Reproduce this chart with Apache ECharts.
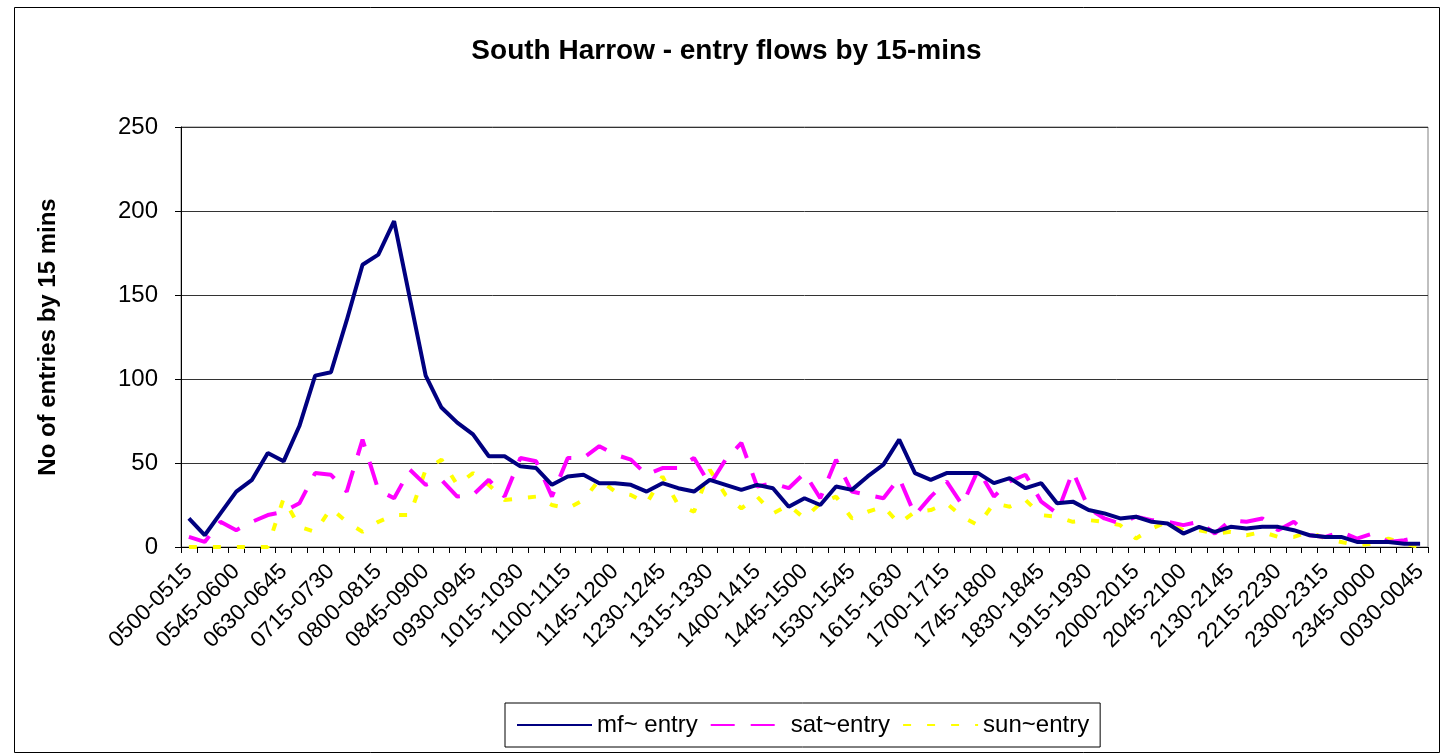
<!DOCTYPE html>
<html>
<head>
<meta charset="utf-8">
<script src="https://cdn.jsdelivr.net/npm/echarts@6/dist/echarts.min.js"></script>
<style>
html,body{margin:0;padding:0;background:#fff;}
#chart{width:1453px;height:754px;}
</style>
</head>
<body>
<div id="chart"></div>
<script>
var categories = [
'0500-0515','0515-0530','0530-0545','0545-0600',
'0600-0615','0615-0630','0630-0645','0645-0700',
'0700-0715','0715-0730','0730-0745','0745-0800',
'0800-0815','0815-0830','0830-0845','0845-0900',
'0900-0915','0915-0930','0930-0945','0945-1000',
'1000-1015','1015-1030','1030-1045','1045-1100',
'1100-1115','1115-1130','1130-1145','1145-1200',
'1200-1215','1215-1230','1230-1245','1245-1300',
'1300-1315','1315-1330','1330-1345','1345-1400',
'1400-1415','1415-1430','1430-1445','1445-1500',
'1500-1515','1515-1530','1530-1545','1545-1600',
'1600-1615','1615-1630','1630-1645','1645-1700',
'1700-1715','1715-1730','1730-1745','1745-1800',
'1800-1815','1815-1830','1830-1845','1845-1900',
'1900-1915','1915-1930','1930-1945','1945-2000',
'2000-2015','2015-2030','2030-2045','2045-2100',
'2100-2115','2115-2130','2130-2145','2145-2200',
'2200-2215','2215-2230','2230-2245','2245-2300',
'2300-2315','2315-2330','2330-2345','2345-0000',
'0000-0015','0015-0030','0030-0045'
];

var mfEntry = [
17,7,20,33,40,56,51,72,102,104,
135,168,174,194,148,102,83,74,67,54,
54,48,47,37,42,43,38,38,37,33,
38,35,33,40,37,34,37,35,24,29,
25,36,34,42,49,64,44,40,44,44,
44,38,41,35,38,26,27,22,20,17,
18,15,14,8,12,9,12,11,12,12,
10,7,6,6,3,3,3,2,2
];

var satEntry = [
6,3,15,10,15,19,21,26,44,43,
33,64,34,29,46,37,40,30,31,40,
30,53,51,30,53,53,60,55,52,43,
47,47,53,37,52,62,36,38,35,44,
29,52,33,31,29,41,19,30,39,25,
46,30,39,43,27,20,45,23,17,14,
18,16,15,13,15,8,16,15,17,10,
15,7,6,9,5,8,3,4,6
];

var sunEntry = [
0,0,0,0,0,0,29,12,9,23,
15,9,15,19,19,46,52,37,44,37,
28,29,30,25,23,28,40,33,31,26,
42,25,21,46,31,23,30,20,25,17,
26,30,17,21,24,14,21,22,26,18,
13,26,24,28,19,18,15,16,15,13,
5,11,15,10,10,8,9,7,9,6,
6,9,5,3,1,2,5,2,0
];

var yTicks = { min: 0, max: 250, interval: 50 };

var FONT = 'Liberation Sans, Arial, sans-serif';
var chart = echarts.init(document.getElementById('chart'), null, { renderer: 'canvas' });

chart.setOption({
  backgroundColor: '#ffffff',
  animation: false,
  title: {
    text: 'South Harrow - entry flows by 15-mins',
    left: 'center',
    top: 32,
    textStyle: { fontFamily: FONT, fontWeight: 'bold', fontSize: 28, color: '#000' }
  },
  graphic: [{
    type: 'rect',
    shape: { x: 14.5, y: 7.5, width: 1425, height: 745 },
    style: { fill: 'none', stroke: '#000', lineWidth: 1 },
    z: -1
  }],
  legend: {
    left: 505,
    top: 703,
    orient: 'horizontal',
    borderColor: '#000',
    borderWidth: 1,
    padding: [10, 11, 10, 11],
    itemWidth: 75,
    itemHeight: 12,
    itemGap: 12,
    itemStyle: { opacity: 0 },
    textStyle: { fontFamily: FONT, fontSize: 24, color: '#000' },
    data: ['mf~ entry', 'sat~entry', 'sun~entry']
  },
  grid: {
    left: 181, right: 25, top: 127, bottom: 207,
    show: true, borderColor: '#808080', borderWidth: 1
  },
  xAxis: {
    type: 'category',
    data: categories,
    boundaryGap: true,
    axisLine: { lineStyle: { color: '#000', width: 1 } },
    axisTick: { show: true, interval: 0, length: 6, inside: false, lineStyle: { color: '#000' } },
    axisLabel: {
      interval: 2, rotate: 45, margin: 21,
      fontFamily: FONT, fontSize: 22.5, color: '#000'
    },
    splitLine: { show: false }
  },
  yAxis: {
    type: 'value',
    min: yTicks.min, max: yTicks.max, interval: yTicks.interval,
    name: 'No of entries by 15 mins',
    nameLocation: 'middle',
    nameRotate: 90,
    nameGap: 121,
    nameTextStyle: { fontFamily: FONT, fontWeight: 'bold', fontSize: 24, color: '#000' },
    axisLine: { show: true, lineStyle: { color: '#000', width: 1 } },
    axisTick: { show: true, length: 6, lineStyle: { color: '#000' } },
    axisLabel: { fontFamily: FONT, fontSize: 24, color: '#000', margin: 23 },
    splitLine: { show: true, lineStyle: { color: '#333', width: 1 } }
  },
  series: [
    {
      name: 'mf~ entry', type: 'line', data: mfEntry,
      symbol: 'none', smooth: false,
      lineStyle: { color: '#000080', width: 4 },
      itemStyle: { color: '#000080' },
      z: 4
    },
    {
      name: 'sat~entry', type: 'line', data: satEntry,
      symbol: 'none', smooth: false,
      lineStyle: { color: '#FF00FF', width: 4, type: [24, 16], cap: 'butt' },
      itemStyle: { color: '#FF00FF' },
      z: 3
    },
    {
      name: 'sun~entry', type: 'line', data: sunEntry,
      symbol: 'none', smooth: false,
      lineStyle: { color: '#FFFF00', width: 4, type: [8, 16], cap: 'butt' },
      itemStyle: { color: '#FFFF00' },
      z: 2
    }
  ]
});
</script>
</body>
</html>
